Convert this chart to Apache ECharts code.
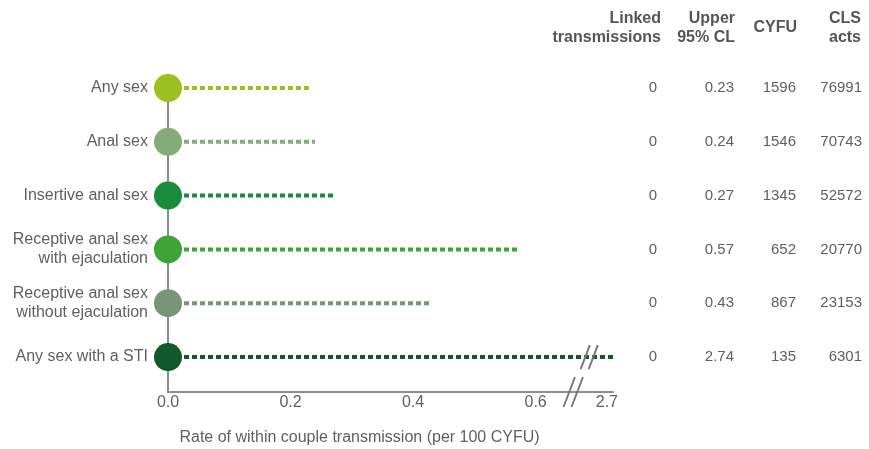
<!DOCTYPE html>
<html>
<head>
<meta charset="utf-8">
<script src="https://cdn.jsdelivr.net/npm/echarts@6/dist/echarts.min.js"></script>
<style>html,body{margin:0;padding:0;background:#fff}#c{width:869px;height:449px}</style>
</head>
<body>
<div id="c"></div>
<script>
// ---- data ----
const categories = ['Any sex', 'Anal sex', 'Insertive anal sex', 'Receptive anal sex\nwith ejaculation', 'Receptive anal sex\nwithout ejaculation', 'Any sex with a STI'];
const rate = [0, 0, 0, 0, 0, 0];
const upper95 = [0.23, 0.24, 0.27, 0.57, 0.43, 2.74];
const linked = [0, 0, 0, 0, 0, 0];
const cyfu = [1596, 1546, 1345, 652, 867, 135];
const clsActs = [76991, 70743, 52572, 20770, 23153, 6301];
const xTickValues = [0, 0.2, 0.4, 0.6, 2.7];
const colHeaders = ['Linked\ntransmissions', 'Upper\n95% CL', 'CYFU', 'CLS\nacts'];
const xTitle = 'Rate of within couple transmission (per 100 CYFU)';

// ---- styles ----
const rowColors = ['#9cc01f', '#84ac78', '#188c3b', '#3ca536', '#789577', '#11592b'];
const FONT = "'Liberation Sans', Arial, sans-serif";
const TXT = '#5f5f5f';
const AXIS = '#8d8d8d';
const headerRight = [661, 735, 797, 861];

const chart = echarts.init(document.getElementById('c'), null, {renderer: 'canvas'});

const series = [];
upper95.forEach((u, i) => {
  series.push({
    type: 'line',
    data: [[rate[i], i], [u, i]],
    symbol: 'none',
    silent: true,
    z: 2,
    lineStyle: {color: rowColors[i], width: 4, type: [5, 3]}
  });
});
series.push({
  type: 'scatter',
  data: rate.map((r, i) => ({value: [r, i], itemStyle: {color: rowColors[i], opacity: 1}})),
  symbolSize: 28,
  itemStyle: {opacity: 1},
  z: 5,
  clip: false
});

const yBase = {
  type: 'value', inverse: true, min: 0, max: 5.65, interval: 1,
  splitLine: {show: false}, axisTick: {show: false}
};

chart.setOption({
  animation: false,
  textStyle: {fontFamily: FONT},
  grid: {left: 168, right: 256, top: 88, bottom: 57, outerBoundsMode: 'none', containLabel: false},
  xAxis: {
    type: 'value', min: 0, max: 2.71,
    breaks: [{start: 0.655, end: 2.675, gap: '5%'}],
    breakArea: {show: false},
    axisLine: {show: true, onZero: false, lineStyle: {color: AXIS, width: 2}},
    axisTick: {show: false},
    splitLine: {show: false},
    axisLabel: {
      customValues: xTickValues,
      formatter: v => Number(v).toFixed(1),
      color: TXT, fontSize: 16, margin: 3, fontFamily: FONT
    },
    name: xTitle, nameLocation: 'middle', nameGap: 38,
    nameTextStyle: {color: TXT, fontSize: 16, fontFamily: FONT, padding: [0, 62, 0, 0]}
  },
  yAxis: [
    Object.assign({}, yBase, {
      position: 'left',
      axisLine: {show: true, lineStyle: {color: AXIS, width: 2}},
      axisLabel: {
        margin: 20, color: TXT, fontSize: 16, fontFamily: FONT, lineHeight: 19, align: 'right',
        formatter: v => (Number.isInteger(v) && categories[v] !== undefined) ? categories[v] : ''
      }
    }),
    Object.assign({}, yBase, {
      position: 'right',
      axisLine: {show: false},
      axisLabel: {
        margin: 0, color: TXT, fontSize: 15, fontFamily: FONT,
        formatter: v => {
          if (!(Number.isInteger(v) && categories[v] !== undefined)) return '';
          return '{a|' + linked[v] + '}{b|' + upper95[v].toFixed(2) + '}{c|' + cyfu[v] + '}{d|' + clsActs[v] + '}';
        },
        rich: {
          a: {width: 44, align: 'right', fontSize: 15, color: TXT, fontFamily: FONT},
          b: {width: 77, align: 'right', fontSize: 15, color: TXT, fontFamily: FONT},
          c: {width: 62, align: 'right', fontSize: 15, color: TXT, fontFamily: FONT},
          d: {width: 66, align: 'right', fontSize: 15, color: TXT, fontFamily: FONT}
        }
      }
    })
  ],
  series: series
});

// headers, continuous axis line across the break, and break marks
const gfx = colHeaders.map((h, k) => ({
  type: 'text', x: headerRight[k], y: 28, silent: true,
  style: {text: h, align: 'right', verticalAlign: 'middle', font: 'bold 16px ' + FONT, fill: '#555', lineHeight: 19}
}));
const x06 = chart.convertToPixel({xAxisIndex: 0}, xTickValues[3]);
const x27 = chart.convertToPixel({xAxisIndex: 0}, xTickValues[4]);
const yAxisPix = chart.convertToPixel({yAxisIndex: 0}, 5.65);
const yRow = chart.convertToPixel({yAxisIndex: 0}, 5);
gfx.push({
  type: 'line', silent: true, z: 50,
  shape: {x1: x06, y1: yAxisPix, x2: x27, y2: yAxisPix},
  style: {stroke: AXIS, lineWidth: 2}
});
const cx = (x06 + x27) / 2 + 2;
function slashes(cxp, cyp, h) {
  const w = h * 0.38;
  return [-4, 4].map(off => ({
    type: 'line', silent: true, z: 100,
    shape: {x1: cxp + off - w / 2, y1: cyp + h / 2, x2: cxp + off + w / 2, y2: cyp - h / 2},
    style: {stroke: '#7a7a7a', lineWidth: 2}
  }));
}
gfx.push(...slashes(cx, yAxisPix, 30));
gfx.push(...slashes(cx + 16, yRow, 24));
chart.setOption({graphic: gfx});
</script>
</body>
</html>
